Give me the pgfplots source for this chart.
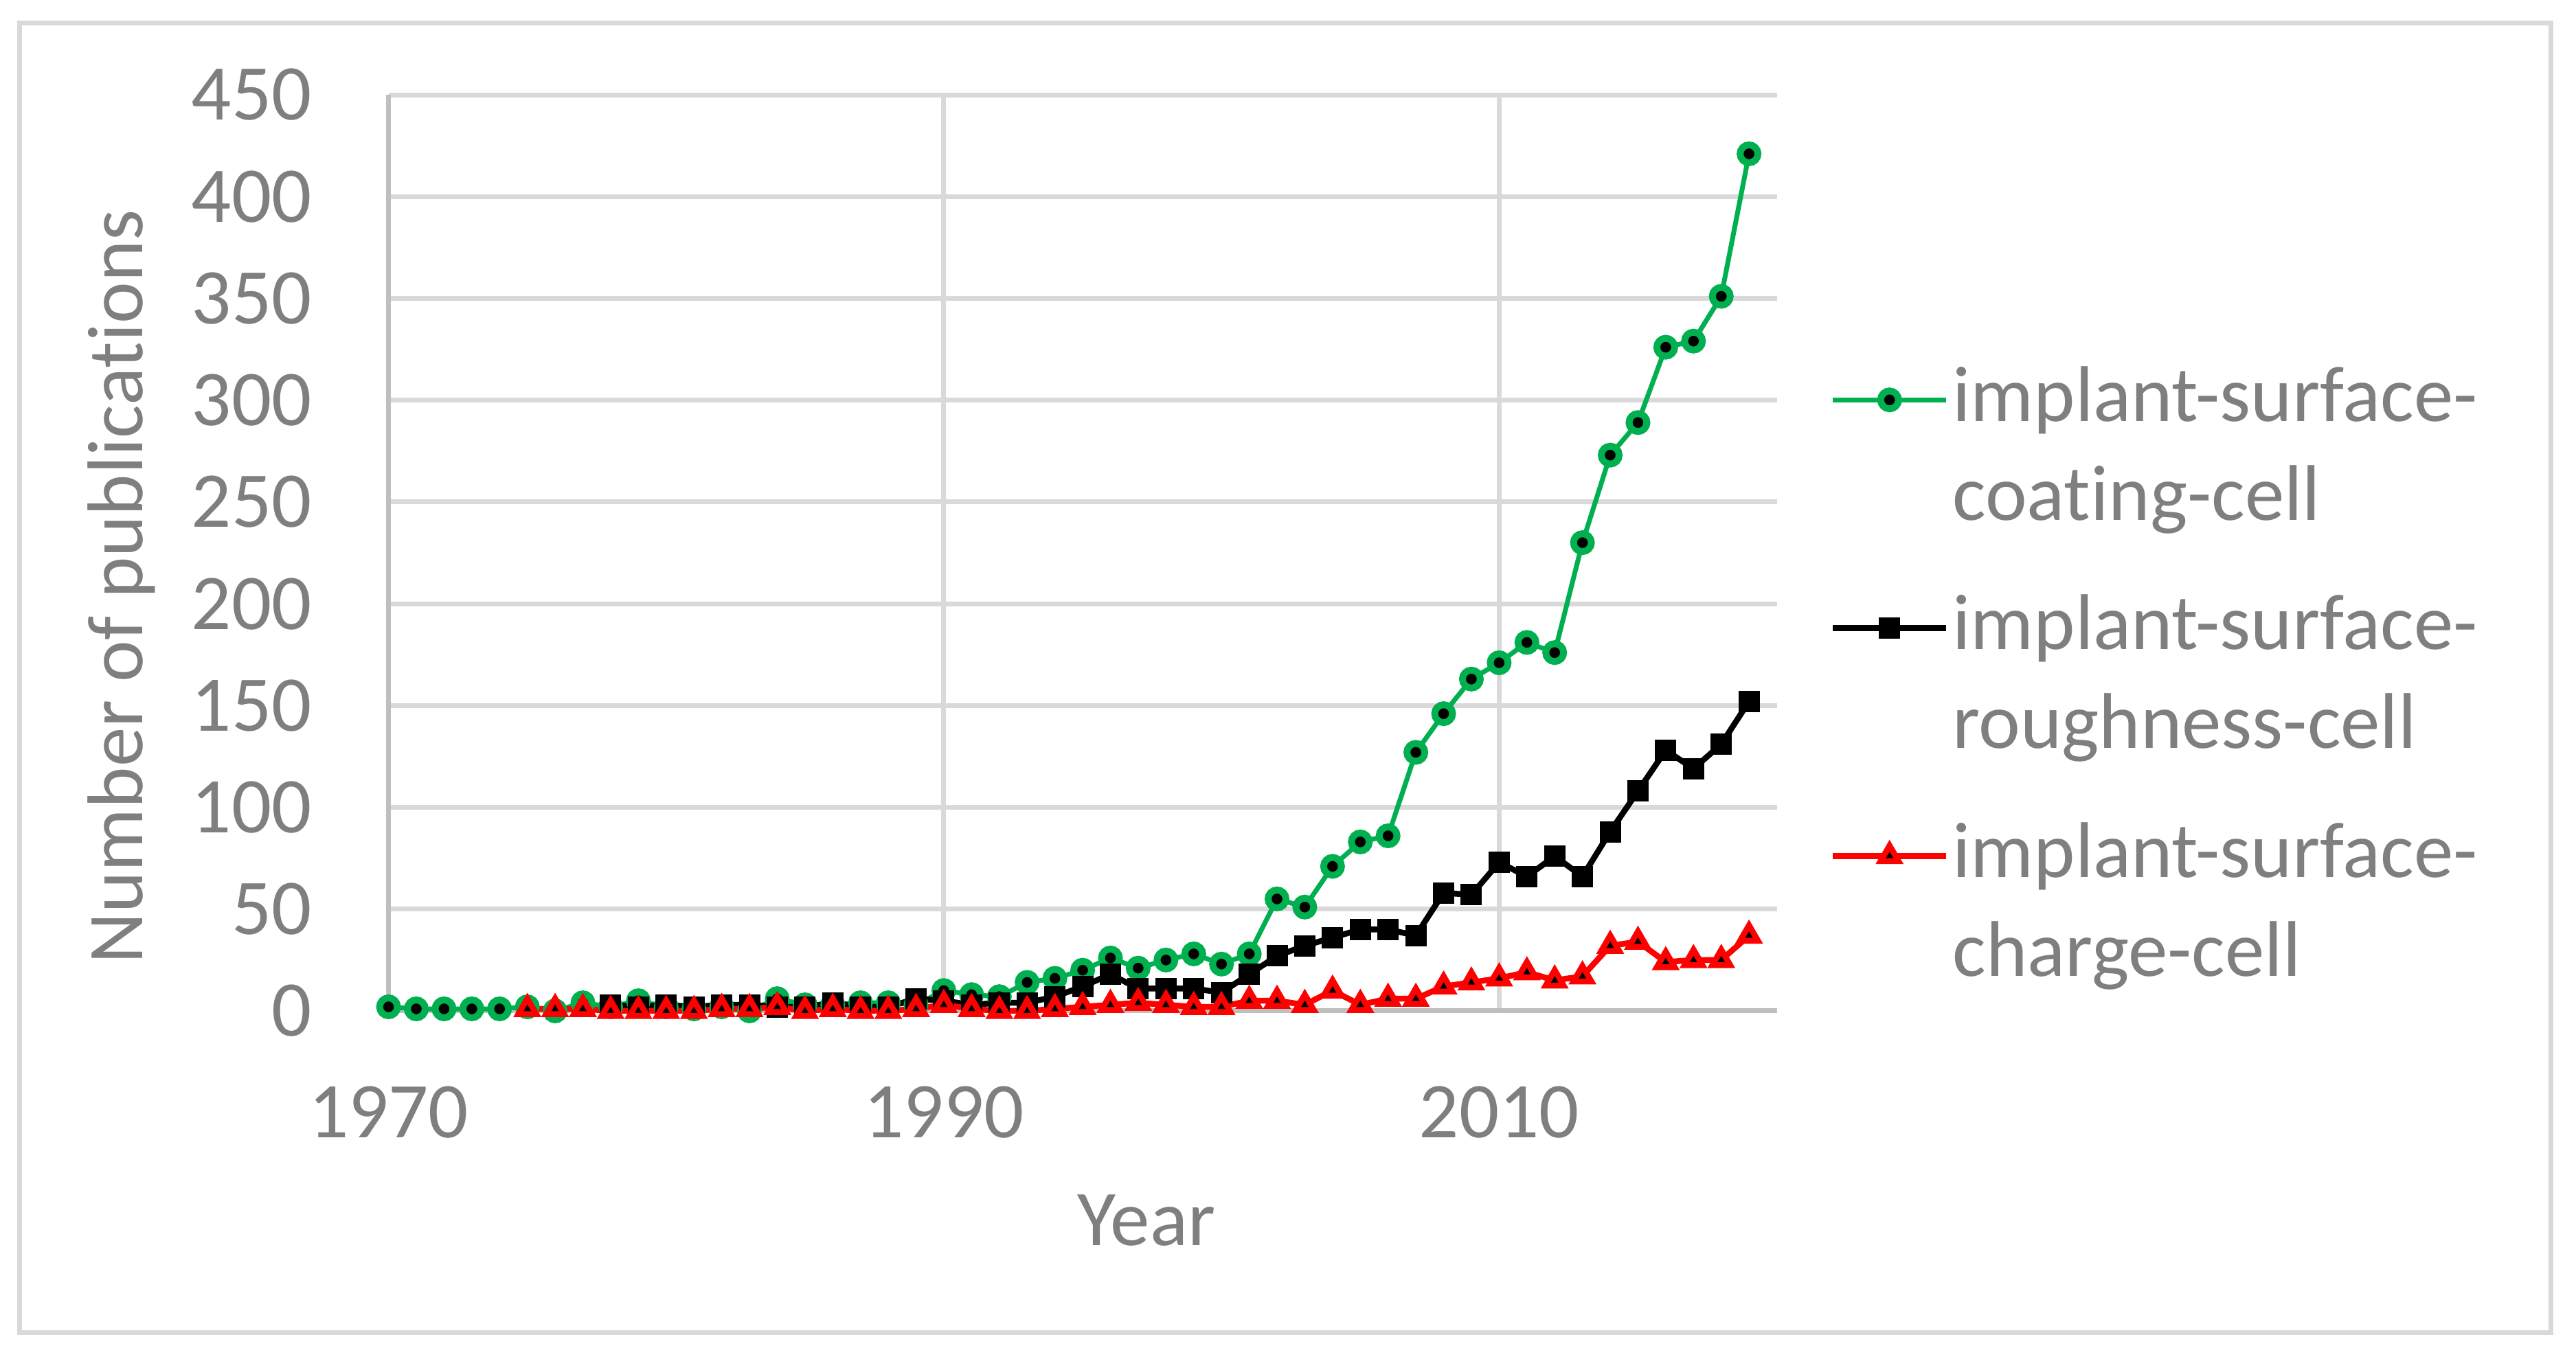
\documentclass[border=0pt]{standalone}
\usepackage{fontspec}
\setmainfont{Carlito}[Ligatures={NoCommon,NoRequired,NoContextual}, Contextuals=NoAlternate]
\usepackage{pgfplots}
\pgfplotsset{compat=1.18}
\definecolor{txtgray}{HTML}{7F7F7F}
\definecolor{gridgray}{HTML}{D9D9D9}
\definecolor{axgray}{HTML}{BFBFBF}
\definecolor{cgreen}{HTML}{00B050}
\definecolor{cred}{HTML}{FF0000}
\newcommand{\chartfont}{\fontsize{11.5}{14.4}\selectfont}
\newcommand{\la}{\rule[-4.32pt]{0pt}{14.4pt}}
\newcommand{\lb}{\rule[-8.72pt]{0pt}{18.8pt}}
\begin{document}
\begin{tikzpicture}
\path[use as bounding box] (0,0) rectangle (375pt,197.3pt);
\draw[gridgray, line width=0.7pt] (2.87pt,3.2pt) rectangle (371.3pt,193.95pt);
\begin{axis}[
  at={(56.56pt,50.1pt)}, anchor=south west,
  scale only axis, width=202.1pt, height=133.4pt,
  xmin=1970, xmax=2020, ymin=0, ymax=450,
  xtick={1970,1990,2010}, xticklabels={1970,1990,2010},
  ytick={0,50,...,450},
  axis x line*=bottom, axis y line*=left,
  axis line style={-, draw=axgray, line width=0.7pt},
  major tick length=0pt,
  xmajorgrids, ymajorgrids,
  grid style={draw=gridgray, line width=0.7pt},
  ticklabel style={font=\chartfont, text=txtgray},
  /pgf/number format/assume math mode=true,
  xticklabel style={inner sep=0pt, anchor=north, yshift=-10.8pt},
  yticklabel style={inner sep=0pt, anchor=east, xshift=-11pt},
  clip=false,
  legend cell align=left,
  legend style={at={(1.0383,0.7189)}, anchor=north west, draw=none, fill=none,
    inner sep=0pt, outer sep=0pt, row sep=0pt, column sep=0.5pt,
    cells={anchor=base west},
    nodes={inner sep=0pt, text depth=, text height=, text=txtgray, font=\chartfont}},
  legend image code/.code={\draw[mark repeat=2, mark phase=2, #1] plot coordinates {(0pt,3.15pt) (8.25pt,3.15pt) (16.5pt,3.15pt)};},
]
\addplot[cgreen, line width=0.7pt, mark=*, mark size=1.3pt,
  mark options={fill=black, draw=cgreen, line width=1pt}] coordinates {
(1970,2) (1971,1) (1972,1) (1973,1) (1974,1) (1975,2) (1976,0) (1977,4) (1978,2) (1979,5)
(1980,2) (1981,1) (1982,2) (1983,0) (1984,6) (1985,3) (1986,3) (1987,4) (1988,4) (1989,3)
(1990,10) (1991,8) (1992,7) (1993,14) (1994,16) (1995,20) (1996,26) (1997,21) (1998,25) (1999,28)
(2000,23) (2001,28) (2002,55) (2003,51) (2004,71) (2005,83) (2006,86) (2007,127) (2008,146) (2009,163)
(2010,171) (2011,181) (2012,176) (2013,230) (2014,273) (2015,289) (2016,326) (2017,329) (2018,351) (2019,421)
};
\addlegendentry{\la implant-surface-}
\addlegendimage{empty legend}
\addlegendentry{\lb coating-cell}
\addplot[black, line width=0.85pt, mark=square*, mark size=1.3pt,
  mark options={fill=black, draw=black, line width=0.5pt}] coordinates {
(1978,3) (1979,2) (1980,3) (1981,2) (1982,3) (1983,3) (1984,2) (1985,2) (1986,4) (1987,2)
(1988,2) (1989,6) (1990,5) (1991,3) (1992,4) (1993,4) (1994,7) (1995,12) (1996,18) (1997,11)
(1998,11) (1999,11) (2000,9) (2001,18) (2002,27) (2003,32) (2004,36) (2005,40) (2006,40) (2007,37)
(2008,58) (2009,57) (2010,73) (2011,66) (2012,76) (2013,66) (2014,88) (2015,108) (2016,128) (2017,119)
(2018,131) (2019,152)
};
\addlegendentry{\la implant-surface-}
\addlegendimage{empty legend}
\addlegendentry{\lb roughness-cell}
\addplot[cred, line width=0.85pt, mark=triangle*, mark size=1.5pt,
  mark options={fill=black, draw=cred, line width=0.85pt}] coordinates {
(1975,1) (1976,1) (1977,1) (1978,0) (1979,0) (1980,0) (1981,0) (1982,1) (1983,1) (1984,2)
(1985,0) (1986,1) (1987,0) (1988,0) (1989,1) (1990,3) (1991,1) (1992,0) (1993,0) (1994,1)
(1995,2) (1996,3) (1997,4) (1998,3) (1999,2) (2000,2) (2001,5) (2002,5) (2003,3) (2004,10)
(2005,3) (2006,6) (2007,6) (2008,12) (2009,14) (2010,16) (2011,19) (2012,15) (2013,17) (2014,32)
(2015,34) (2016,24) (2017,25) (2018,25) (2019,37)
};
\addlegendentry{\la implant-surface-}
\addlegendimage{empty legend}
\addlegendentry{\la charge-cell}
\end{axis}
\node[rotate=90, anchor=base, inner sep=0pt, text=txtgray, font=\chartfont] at (20.7pt,111.85pt) {Number of publications};
\node[anchor=base, inner sep=0pt, text=txtgray, font=\chartfont] at (166.9pt,15.9pt) {Year};
\end{tikzpicture}
\end{document}
